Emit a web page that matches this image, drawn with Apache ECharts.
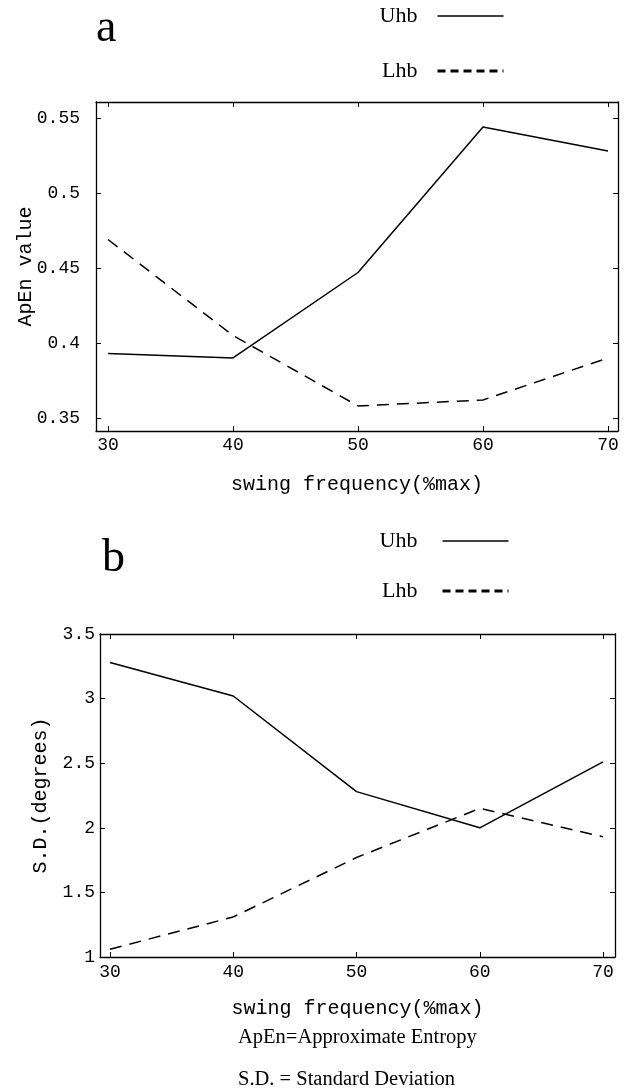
<!DOCTYPE html>
<html>
<head>
<meta charset="utf-8">
<script src="https://cdn.jsdelivr.net/npm/echarts@6/dist/echarts.min.js"></script>
<style>
  html, body { margin: 0; padding: 0; background: #fff; }
  #chart { width: 626px; height: 1088px; }
</style>
</head>
<body>
<div id="chart"></div>
<script>
const MONO = '"Liberation Mono", "DejaVu Sans Mono", monospace';
const SERIF = '"Liberation Serif", "DejaVu Serif", serif';

// swing frequency (%max)
const freq = [30, 40, 50, 60, 70];
const xTicks = [30, 40, 50, 60, 70];

// panel a: ApEn value
const apenUhb = [0.393, 0.390, 0.447, 0.544, 0.528];
const apenLhb = [0.469, 0.405, 0.358, 0.362, 0.390];
const apenTicks = [0.35, 0.4, 0.45, 0.5, 0.55];

// panel b: S.D. (degrees)
const sdUhb = [3.28, 3.02, 2.28, 2.00, 2.51];
const sdLhb = [1.06, 1.31, 1.77, 2.15, 1.93];
const sdTicks = [1, 1.5, 2, 2.5, 3, 3.5];

const pairs = (ys) => freq.map((x, i) => [x, ys[i]]);

const chart = echarts.init(document.getElementById("chart"), null, { renderer: "canvas" });

const frameLine = { show: true, lineStyle: { color: "#000", width: 1.3 } };

function xAxisPair(grid, min, max, nameGap, labelMargin) {
  return [
    {
      gridIndex: grid, type: "value", min, max, position: "bottom",
      name: "swing frequency(%max)", nameLocation: "middle", nameGap, nameMoveOverlap: false,
      nameTextStyle: { color: "#000", fontFamily: MONO, fontSize: 20 },
      axisLine: frameLine,
      axisTick: { show: true, inside: true, length: 5, customValues: xTicks, lineStyle: { color: "#000" } },
      axisLabel: { show: true, customValues: xTicks, color: "#000", fontFamily: MONO, fontSize: 18, margin: labelMargin },
      splitLine: { show: false },
    },
    {
      gridIndex: grid, type: "value", min, max, position: "top",
      axisLine: frameLine,
      axisTick: { show: true, inside: true, length: 5, customValues: xTicks, lineStyle: { color: "#000" } },
      axisLabel: { show: false },
      splitLine: { show: false },
    },
  ];
}

function yAxisPair(grid, min, max, name, ticks, nameGap, labelMargin) {
  return [
    {
      gridIndex: grid, type: "value", min, max, position: "left",
      name, nameLocation: "middle", nameGap, nameMoveOverlap: false,
      nameTextStyle: { color: "#000", fontFamily: MONO, fontSize: 20 },
      axisLine: frameLine,
      axisTick: { show: true, inside: true, length: 5, customValues: ticks, lineStyle: { color: "#000" } },
      axisLabel: { show: true, customValues: ticks, color: "#000", fontFamily: MONO, fontSize: 18, margin: labelMargin },
      splitLine: { show: false },
    },
    {
      gridIndex: grid, type: "value", min, max, position: "right",
      axisLine: frameLine,
      axisTick: { show: true, inside: true, length: 5, customValues: ticks, lineStyle: { color: "#000" } },
      axisLabel: { show: false },
      splitLine: { show: false },
    },
  ];
}

// text on the left, line sample on the right, no marker
function legendFor(top, right, gap, textPad) {
  return {
    orient: "vertical", top, right, align: "right",
    itemWidth: 66, itemHeight: 20, itemGap: gap,
    itemStyle: { opacity: 0, borderWidth: 0 },
    textStyle: { color: "#000", fontFamily: SERIF, fontSize: 22, padding: [0, textPad, 0, 0] },
    data: [
      { name: "Uhb", lineStyle: { width: 1.5, type: "solid", color: "#000" } },
      { name: "Lhb", lineStyle: { width: 3, type: [8, 5], color: "#000" } },
    ],
    selectedMode: false,
  };
}

const solid = { color: "#000", width: 1.5, type: "solid" };
const dashed = { color: "#000", width: 1.5, type: [12, 8] };
const black = { color: "#000" };

chart.setOption({
  backgroundColor: "#fff",
  animation: false,
  grid: [
    { left: 96, top: 102, width: 522, height: 329 },
    { left: 100, top: 634, width: 515, height: 323 },
  ],
  xAxis: [
    ...xAxisPair(0, 29.04, 70.8, 44, 5),
    ...xAxisPair(1, 29.19, 70.97, 42, 6),
  ],
  yAxis: [
    ...yAxisPair(0, 0.3413, 0.5607, "ApEn value", apenTicks, 60, 16),
    ...yAxisPair(1, 1, 3.5, "S.D.(degrees)", sdTicks, 49, 5),
  ],
  legend: [legendFor(0, 116, 33, 15), legendFor(525, 111, 28, 20)],
  series: [
    { name: "Uhb", type: "line", xAxisIndex: 0, yAxisIndex: 0, data: pairs(apenUhb), symbol: "none", itemStyle: black, lineStyle: solid },
    { name: "Lhb", type: "line", xAxisIndex: 0, yAxisIndex: 0, data: pairs(apenLhb), symbol: "none", itemStyle: black, lineStyle: dashed },
    { name: "Uhb", type: "line", xAxisIndex: 2, yAxisIndex: 2, data: pairs(sdUhb), symbol: "none", itemStyle: black, lineStyle: solid },
    { name: "Lhb", type: "line", xAxisIndex: 2, yAxisIndex: 2, data: pairs(sdLhb), symbol: "none", itemStyle: black, lineStyle: dashed },
  ],
  graphic: [
    { type: "text", left: 96, top: 6, style: { text: "a", font: `46px ${SERIF}`, fill: "#000" } },
    { type: "text", left: 102, top: 536, style: { text: "b", font: `46px ${SERIF}`, fill: "#000" } },
    { type: "text", left: 238, top: 1027, style: { text: "ApEn=Approximate Entropy", font: `20.5px ${SERIF}`, fill: "#000" } },
    { type: "text", left: 238, top: 1069, style: { text: "S.D. = Standard Deviation", font: `20.5px ${SERIF}`, fill: "#000" } },
  ],
});
</script>
</body>
</html>
